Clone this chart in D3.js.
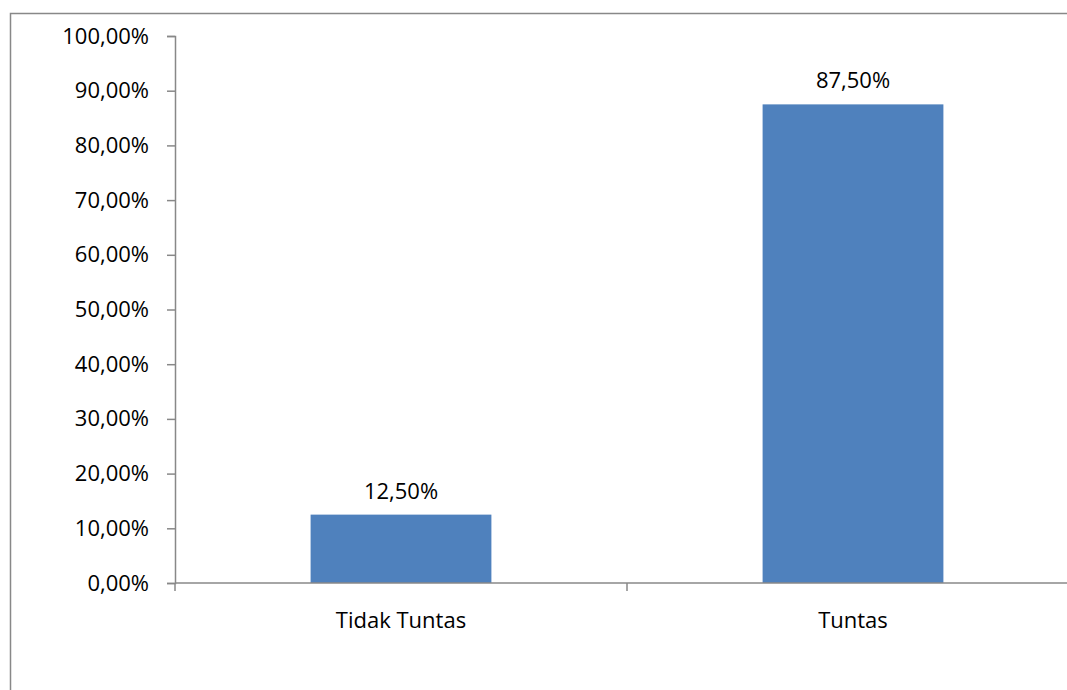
<!DOCTYPE html>
<html>
<head>
<meta charset="utf-8">
<script src="https://cdn.jsdelivr.net/npm/d3@7"></script>
<style>
body { margin: 0; background: #fff; }
text { font-family: "Open Sans", "Noto Sans", sans-serif; fill: #000; }
</style>
</head>
<body>
<script>
// data
var categories = ["Tidak Tuntas", "Tuntas"];
var values = [12.5, 87.5];
var yTicks = [0, 10, 20, 30, 40, 50, 60, 70, 80, 90, 100];

var width = 1067, height = 690;
var plotLeft = 175, plotRight = 1079, plotTop = 36, plotBottom = 583;
var fontSize = "22px";

var svg = d3.select("body").append("svg").attr("width", width).attr("height", height);

// chart frame
svg.append("rect").attr("x", 10.5).attr("y", 13.5).attr("width", 1100).attr("height", 800)
    .style("fill", "none").style("stroke", "#888").style("stroke-width", 1.5);

var x = d3.scaleBand().domain(categories).range([plotLeft, plotRight]).paddingInner(0.6).paddingOuter(0.3);
var y = d3.scaleLinear().domain([0, 100]).range([plotBottom, plotTop]);

function fmt(v) {
    return v.toFixed(2).replace(".", ",") + "%";
}

// y axis
var yAxis = svg.append("g").attr("transform", "translate(" + plotLeft + ",0)")
    .call(d3.axisLeft(y).tickValues(yTicks).tickSize(8).tickPadding(18).tickFormat(fmt));
yAxis.select(".domain").style("stroke", "#888").style("stroke-width", 1.5);
yAxis.selectAll(".tick line").style("stroke", "#888").style("stroke-width", 1.5);
yAxis.selectAll("text").style("font-size", fontSize).style("fill", "#000")
    .style("font-family", "'Open Sans', 'Noto Sans', sans-serif");

// bars
svg.selectAll("rect.bar").data(values).enter().append("rect").classed("bar", true)
    .attr("x", function (d, i) { return x(categories[i]); })
    .attr("y", function (d) { return y(d); })
    .attr("width", x.bandwidth())
    .attr("height", function (d) { return y(0) - y(d); })
    .style("fill", "#4F81BD");

// x axis
var xa = svg.append("g").attr("transform", "translate(0," + plotBottom + ")");
xa.append("line").attr("x1", plotLeft).attr("x2", plotRight).attr("y1", 0).attr("y2", 0)
    .style("stroke", "#888").style("stroke-width", 1.5);
var bounds = [plotLeft, (plotLeft + plotRight) / 2, plotRight];
xa.selectAll("line.tk").data(bounds).enter().append("line").classed("tk", true)
    .attr("x1", function (d) { return d; }).attr("x2", function (d) { return d; })
    .attr("y1", 0).attr("y2", 8)
    .style("stroke", "#888").style("stroke-width", 1.5);
xa.selectAll("text").data(categories).enter().append("text")
    .attr("x", function (d) { return x(d) + x.bandwidth() / 2; })
    .attr("y", 45)
    .attr("text-anchor", "middle")
    .style("font-size", fontSize)
    .text(function (d) { return d; });

// value labels
svg.selectAll("text.val").data(values).enter().append("text").classed("val", true)
    .attr("x", function (d, i) { return x(categories[i]) + x.bandwidth() / 2; })
    .attr("y", function (d) { return y(d) - 16; })
    .attr("text-anchor", "middle")
    .style("font-size", fontSize)
    .text(function (d) { return fmt(d); });
</script>
</body>
</html>
